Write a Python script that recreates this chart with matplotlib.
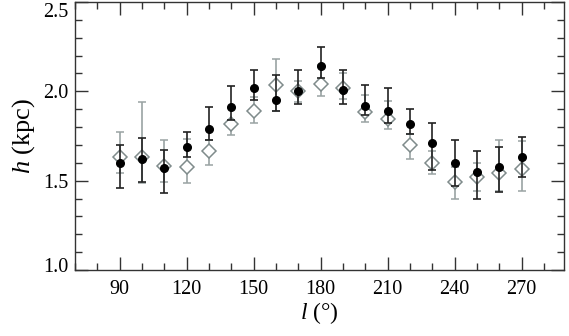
import numpy as np
import matplotlib
matplotlib.use('Agg')
import matplotlib.pyplot as plt
from matplotlib.ticker import MultipleLocator, FormatStrFormatter
import matplotlib.transforms as mtransforms

plt.rcParams['font.family'] = 'Liberation Serif'
plt.rcParams['mathtext.fontset'] = 'custom'
plt.rcParams['mathtext.rm'] = 'Liberation Serif'
plt.rcParams['mathtext.it'] = 'Liberation Serif:italic'

# galactic longitude of each bin
lon = [90, 100, 110, 120, 130, 140, 150, 160, 170, 180, 190, 200, 210, 220, 230, 240, 250, 260, 270]

# black points (filled circles)
h_black = [1.60, 1.62, 1.57, 1.69, 1.79, 1.91, 2.02, 1.95, 2.00, 2.14, 2.01, 1.92, 1.89, 1.815, 1.71, 1.60, 1.55, 1.575, 1.63]
h_black_up = [1.70, 1.74, 1.67, 1.77, 1.915, 2.03, 2.12, 2.09, 2.12, 2.25, 2.12, 2.035, 2.02, 1.90, 1.82, 1.73, 1.665, 1.69, 1.745]
h_black_lo = [1.46, 1.49, 1.43, 1.63, 1.73, 1.84, 1.95, 1.89, 1.93, 2.075, 1.93, 1.865, 1.82, 1.76, 1.56, 1.47, 1.395, 1.435, 1.52]

# grey points (open diamonds)
h_grey = [1.63, 1.63, 1.58, 1.575, 1.665, 1.815, 1.89, 2.035, 2.00, 2.04, 2.02, 1.885, 1.845, 1.70, 1.60, 1.49, 1.52, 1.545, 1.565]
h_grey_up = [1.775, 1.94, 1.73, 1.735, 1.73, 1.84, 1.97, 2.18, 2.06, 2.15, 2.105, 1.98, 1.945, 1.76, 1.665, 1.575, 1.60, 1.73, 1.72]
h_grey_lo = [1.545, 1.485, 1.49, 1.485, 1.585, 1.755, 1.82, 1.89, 1.94, 1.975, 1.955, 1.83, 1.79, 1.62, 1.535, 1.40, 1.44, 1.44, 1.44]

lon = np.array(lon)
hb = np.array(h_black); hg = np.array(h_grey)
err_b = [hb - np.array(h_black_lo), np.array(h_black_up) - hb]
err_g = [hg - np.array(h_grey_lo), np.array(h_grey_up) - hg]

fig = plt.figure(figsize=(5.69, 3.36), dpi=100)
ax = fig.add_axes([75/569, 66/336, 489/569, 268/336])

ax.errorbar(lon, hg, yerr=err_g, fmt='D', mfc='white', mec='#7f8b8b', mew=1.1, ms=6.8,
            ecolor='#9aa3a3', elinewidth=1.2, capsize=3.2, capthick=1.2, zorder=2)
ax.errorbar(lon, hb, yerr=err_b, fmt='o', mfc='black', mec='black', ms=5.5,
            ecolor='#222222', elinewidth=1.2, capsize=3.2, capthick=1.2, zorder=3)

ax.set_xlim(70, 289)
ax.set_ylim(1.0, 2.5)
ax.xaxis.set_major_locator(MultipleLocator(30))
ax.xaxis.set_minor_locator(MultipleLocator(10))
ax.yaxis.set_major_locator(MultipleLocator(0.5))
ax.yaxis.set_minor_locator(MultipleLocator(0.1))
ax.yaxis.set_major_formatter(FormatStrFormatter('%.1f'))
ax.tick_params(which='both', direction='in', top=True, right=True, width=1.0, color='#333333')
ax.tick_params(which='major', length=9.5, labelsize=14.5)
ax.tick_params(axis='x', which='major', pad=7)
ax.tick_params(axis='y', which='major', pad=5)
ax.tick_params(which='minor', length=5)
for s in ax.spines.values():
    s.set_linewidth(1.0)
    s.set_color('#333333')

ax.set_xlabel(r'$l$ (°)', fontsize=17, labelpad=1)
ax.set_ylabel(r'$h$ (kpc)', fontsize=19, labelpad=4)

# nudge the end labels inside the frame like the original
fig.canvas.draw()
for lab in ax.get_yticklabels():
    if lab.get_text() == '2.5':
        lab.set_transform(lab.get_transform() + mtransforms.ScaledTranslation(0, -8/100, fig.dpi_scale_trans))
    if lab.get_text() == '1.0':
        lab.set_transform(lab.get_transform() + mtransforms.ScaledTranslation(0, 5/100, fig.dpi_scale_trans))

fig.savefig('out.png', dpi=100)
